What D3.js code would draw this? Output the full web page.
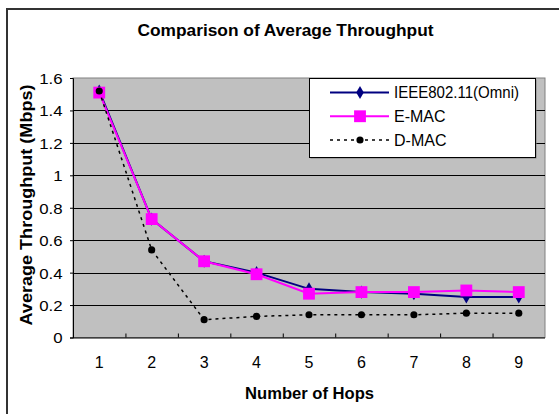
<!DOCTYPE html>
<html>
<head>
  <meta charset="utf-8">
  <title>Comparison of Average Throughput</title>
  <style type="text/css">
    body { margin: 0; background: #fff; }
    svg { display: block; }
    text { font-family: "Liberation Sans", Arial, sans-serif; fill: #000; }
  </style>
  <script src="https://cdn.jsdelivr.net/npm/d3@7"></script>
</head>
<body>
  <script>
    // data
    var hops = [1, 2, 3, 4, 5, 6, 7, 8, 9];
    var ieee = [1.52, 0.73, 0.47, 0.40, 0.30, 0.28, 0.27, 0.25, 0.25];
    var emac = [1.51, 0.73, 0.47, 0.39, 0.27, 0.28, 0.28, 0.29, 0.28];
    var dmac = [1.52, 0.54, 0.11, 0.13, 0.14, 0.14, 0.14, 0.15, 0.15];
    var yTicks = [0, 0.2, 0.4, 0.6, 0.8, 1, 1.2, 1.4, 1.6];
    var seriesNames = ['IEEE802.11(Omni)', 'E-MAC', 'D-MAC'];

    var series = [
      { name: seriesNames[0], values: ieee, color: '#000080', dash: null, symbol: d3.symbolDiamond, size: 50, width: 2 },
      { name: seriesNames[1], values: emac, color: '#ff00ff', dash: null, symbol: d3.symbolSquare, size: 140, width: 2 },
      { name: seriesNames[2], values: dmac, color: '#000000', dash: '3,4', symbol: d3.symbolCircle, size: 40, width: 1.5 }
    ];

    var W = 559, H = 414;
    var plot = { left: 73, right: 545, top: 78, bottom: 337.5 };

    var svg = d3.select('body').append('svg').attr('width', W).attr('height', H);

    // outer frame (top and left edges only are visible)
    svg.append('line').attr('x1', 6).attr('x2', W).attr('y1', 9).attr('y2', 9)
      .attr('stroke', '#333').attr('stroke-width', 2);
    svg.append('line').attr('x1', 7).attr('x2', 7).attr('y1', 8).attr('y2', H)
      .attr('stroke', '#333').attr('stroke-width', 2);

    var x = d3.scaleBand().domain(hops).range([plot.left, plot.right]);
    var xEdge = d3.scaleLinear().domain([0.5, 9.5]).range([plot.left, plot.right]);
    var y = d3.scaleLinear().domain([0, 1.6]).range([plot.bottom, plot.top]);

    // plot background
    svg.append('rect')
      .attr('x', plot.left).attr('y', plot.top)
      .attr('width', plot.right - plot.left).attr('height', plot.bottom - plot.top)
      .attr('fill', '#c0c0c0').attr('stroke', '#808080').attr('stroke-width', 1);

    // gridlines
    svg.selectAll('.grid').data(yTicks.slice(1, -1)).enter().append('line')
      .attr('class', 'grid')
      .attr('x1', plot.left).attr('x2', plot.right)
      .attr('y1', d => Math.round(y(d)) + 0.5).attr('y2', d => Math.round(y(d)) + 0.5)
      .attr('stroke', '#000').attr('stroke-width', 1);

    // y axis (labels a little wider than the font gives, as in the picture)
    var yAxis = svg.append('g')
      .attr('transform', `translate(${plot.left},0)`)
      .call(d3.axisLeft(y).tickValues(yTicks).tickSize(3)
        .tickFormat(d => String(+d.toFixed(1))));
    yAxis.selectAll('text').style('font-size', '15px').attr('dy', '0.36em')
      .each(function () {
        var w = this.getComputedTextLength() * 1.12;
        this.setAttribute('textLength', w);
        this.setAttribute('lengthAdjust', 'spacingAndGlyphs');
        this.setAttribute('text-anchor', 'start');
        this.setAttribute('x', -10.5 - w);
      });

    // x axis: labels at categories, tick marks between them
    var xAxis = svg.append('g')
      .attr('transform', `translate(0,${plot.bottom})`)
      .call(d3.axisBottom(x).tickSize(0).tickPadding(19));
    xAxis.select('.domain').remove();
    xAxis.selectAll('text').style('font-size', '16px');

    svg.append('g')
      .attr('transform', `translate(0,${plot.bottom})`)
      .call(d3.axisBottom(xEdge).tickValues(d3.range(1.5, 9, 1)).tickSize(-4).tickFormat(''))
      .select('.domain').attr('d', `M${plot.left},0.5H${plot.right}`);

    svg.selectAll('.domain, .tick line').attr('stroke', '#000');

    // series lines and markers
    var line = d3.line().x((d, i) => x(hops[i]) + x.bandwidth() / 2).y(d => y(d));

    series.forEach(s => {
      svg.append('path')
        .datum(s.values)
        .attr('d', line)
        .attr('fill', 'none')
        .attr('stroke', s.color)
        .attr('stroke-width', s.width)
        .attr('stroke-dasharray', s.dash);
      svg.append('g').selectAll('path').data(s.values).enter().append('path')
        .attr('d', d3.symbol().type(s.symbol).size(s.size))
        .attr('transform', (d, i) => `translate(${x(hops[i]) + x.bandwidth() / 2},${y(d)})`)
        .attr('fill', s.color);
    });

    // legend
    var legend = svg.append('g');
    legend.append('rect')
      .attr('x', 310.5).attr('y', 79.5).attr('width', 226).attr('height', 79)
      .attr('fill', '#808080');
    legend.append('rect')
      .attr('x', 309.5).attr('y', 78.5).attr('width', 226).attr('height', 79)
      .attr('fill', '#fff').attr('stroke', '#000').attr('stroke-width', 1);

    var rowY = d3.scalePoint().domain(seriesNames).range([92.5, 140]);
    var item = legend.selectAll('.item').data(series).enter().append('g')
      .attr('class', 'item')
      .attr('transform', d => `translate(0,${rowY(d.name)})`);
    item.append('line')
      .attr('x1', 330).attr('x2', 389)
      .attr('stroke', d => d.color)
      .attr('stroke-width', d => d.width)
      .attr('stroke-dasharray', d => d.dash);
    item.append('path')
      .attr('d', d => d3.symbol().type(d.symbol).size(d.size)())
      .attr('transform', 'translate(360,0)')
      .attr('fill', d => d.color);
    item.append('text')
      .attr('x', 394).attr('dy', '0.36em')
      .style('font-size', '16px')
      .text(d => d.name)
      .each(function () {
        var w = this.getComputedTextLength();
        if (w > 125) {
          this.setAttribute('textLength', 125);
          this.setAttribute('lengthAdjust', 'spacingAndGlyphs');
        }
      });

    // titles
    svg.append('text')
      .attr('x', 285.5).attr('y', 36)
      .attr('text-anchor', 'middle')
      .style('font-size', '16px').style('font-weight', 'bold')
      .attr('textLength', 296).attr('lengthAdjust', 'spacingAndGlyphs')
      .text('Comparison of Average Throughput');

    svg.append('text')
      .attr('transform', 'translate(32,205) rotate(-90)')
      .attr('text-anchor', 'middle')
      .style('font-size', '16px').style('font-weight', 'bold')
      .attr('textLength', 241).attr('lengthAdjust', 'spacingAndGlyphs')
      .text('Average Throughput (Mbps)');

    svg.append('text')
      .attr('x', 309.6).attr('y', 398.5)
      .attr('text-anchor', 'middle')
      .style('font-size', '16px').style('font-weight', 'bold')
      .attr('textLength', 129).attr('lengthAdjust', 'spacingAndGlyphs')
      .text('Number of Hops');
  </script>
</body>
</html>
